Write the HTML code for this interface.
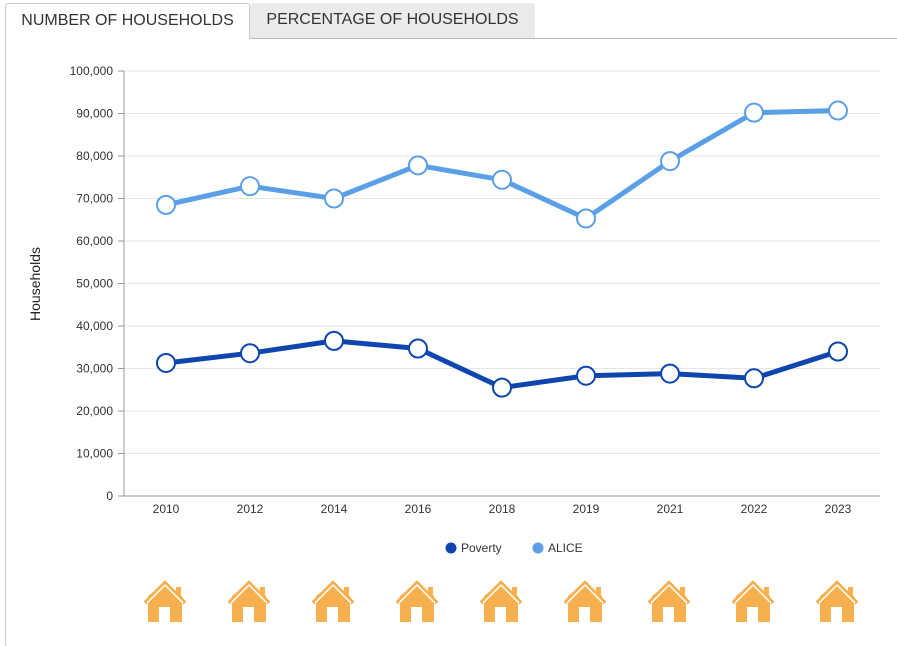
<!DOCTYPE html>
<html><head><meta charset="utf-8"><style>
body{margin:0;width:897px;height:646px;background:#fff;font-family:"Liberation Sans",Arial,sans-serif;overflow:hidden;position:relative}
.tab{position:absolute;top:3px;height:35px;box-sizing:border-box;font-size:16px;color:#333;line-height:34px;text-align:center}
</style></head><body>
<div class="tab" style="left:5px;width:245px;background:#fff;border:1px solid #ccc;border-bottom:none;border-radius:3px 3px 0 0;z-index:2;height:36px">NUMBER OF HOUSEHOLDS</div>
<div class="tab" style="left:250px;width:285px;background:#ebebeb;border-radius:3px 3px 0 0">PERCENTAGE OF HOUSEHOLDS</div>
<div style="position:absolute;left:249px;top:38px;width:648px;height:1px;background:#bbb"></div>
<div style="position:absolute;left:5px;top:38px;width:1px;height:608px;background:#ccc"></div>
<svg id="chart" width="897" height="646" style="position:absolute;left:0;top:0" font-family="Liberation Sans, Arial, sans-serif"></svg>
<script>
const categories=["2010","2012","2014","2016","2018","2019","2021","2022","2023"];
const povertyValues=[31300,33600,36500,34700,25500,28300,28800,27700,34000];
const aliceValues=[68500,72900,70000,77800,74400,65300,78800,90200,90700];
const yTicks=[0,10000,20000,30000,40000,50000,60000,70000,80000,90000,100000];
const NS="http://www.w3.org/2000/svg";
const svg=document.getElementById('chart');
const L=124,R=880,T=71,B=496,yMax=100000;
const band=(R-L)/categories.length;
const x=i=>L+band*(i+0.5);
const y=v=>B-(v/yMax)*(B-T);
function mk(tag,attrs,parent){const e=document.createElementNS(NS,tag);for(const k in attrs)e.setAttribute(k,attrs[k]);(parent||svg).appendChild(e);return e;}
yTicks.forEach(t=>{
  const g=mk('line',{x1:L,x2:R,y1:y(t),y2:y(t),stroke:t===0?'#999':'#e6e6e6','stroke-width':1});
  
  
  const tk=mk('line',{x1:L-6,x2:L,y1:y(t),y2:y(t),stroke:'#999'});
  
  
  const tx=mk('text',{x:L-11,y:y(t)+4,'text-anchor':'end','font-size':12,fill:'#333'});
  tx.textContent=t.toLocaleString('en-US');
  
  
});
const ax=mk('line',{x1:L,x2:L,y1:T,y2:B,stroke:'#999'});


categories.forEach((c,i)=>{
  const tx=mk('text',{x:x(i),y:513,'text-anchor':'middle','font-size':12,fill:'#333'});
  tx.textContent=c;
  
  
});
const yt=mk('text',{x:0,y:0,transform:'translate(40,284) rotate(-90)','text-anchor':'middle','font-size':14,fill:'#222'});
yt.textContent='Households';


function series(vals,color,name){
  const p=mk('polyline',{points:vals.map((v,i)=>x(i)+','+y(v)).join(' '),fill:'none',stroke:color,'stroke-width':5,'stroke-linejoin':'round'});
  
  
  vals.forEach((v,i)=>{
    const c=mk('circle',{cx:x(i),cy:y(v),r:9,fill:'#fff',stroke:color,'stroke-width':2});
    
    
  });
}
series(aliceValues,'#5b9fe6','alice');
series(povertyValues,'#0f45ae','poverty');
[['Poverty','#0f45ae',451],['ALICE','#5b9fe6',538]].forEach(([n,c,lx])=>{
  const d=mk('circle',{cx:lx,cy:548,r:5.5,fill:c});
  
  
  const t=mk('text',{x:lx+10,y:552,'font-size':12,fill:'#333'});
  t.textContent=n;
  
  
});
categories.forEach((c,i)=>{
  const g=mk('g',{transform:'translate('+(x(i)-1)+',0)',fill:'#f6b04f'});
  
  
  mk('path',{d:'M-17,596 L0,583 L17,596 L17,622 L5,622 L5,607 L-6,607 L-6,622 L-17,622 Z'},g);
  mk('rect',{x:11,y:587,width:5,height:8},g);
  mk('polyline',{points:'-20,603 0,583 20,603',fill:'none',stroke:'#f6b04f','stroke-width':4},g);
  mk('polyline',{points:'-18,603 0,585 18,603',fill:'none',stroke:'#fff','stroke-width':1.5},g);
});
</script>
</body></html>
